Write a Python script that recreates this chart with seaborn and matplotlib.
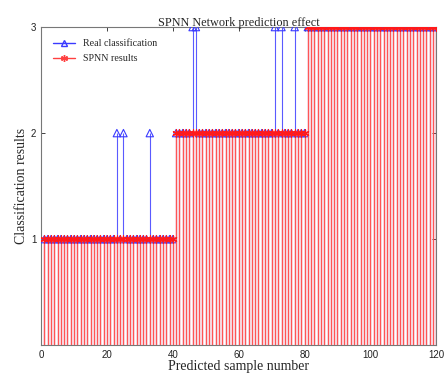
import numpy as np
import pandas as pd
import seaborn as sns
import matplotlib.pyplot as plt
from matplotlib.lines import Line2D

# sample numbers and class labels
samples = list(range(1, 121))
spnn_results = [1] * 40 + [2] * 40 + [3] * 40
real_class = list(spnn_results)
for s in [23, 25, 33]:
    real_class[s - 1] = 2
for s in [46, 47, 71, 73, 77]:
    real_class[s - 1] = 3

df = pd.DataFrame({'sample': samples, 'real': real_class, 'spnn': spnn_results})

ASTERISK = (6, 2, 0)


def main():
    sns.set_style('ticks')
    plt.rcParams['font.family'] = ['Liberation Serif', 'DejaVu Serif']
    fig = plt.figure(figsize=(4.47, 3.76), dpi=100)
    ax = fig.add_axes([0.092, 0.082, 0.884, 0.846])

    # real classification stems (drawn first, red goes over)
    ax.vlines(df['sample'], 0, df['real'], color='#5a5aff', lw=0.8, zorder=2)
    sns.scatterplot(data=df, x='sample', y='real', marker='^', s=28,
                    facecolor='none', edgecolor='#3a3aff', linewidth=0.8,
                    ax=ax, zorder=3, legend=False)
    # SPNN stems
    ax.vlines(df['sample'], 0, df['spnn'], color='#ff5555', lw=1.0, zorder=4)
    sns.scatterplot(data=df, x='sample', y='spnn', marker=ASTERISK, s=26,
                    color='#ff1a1a', linewidth=0.9,
                    ax=ax, zorder=5, legend=False)

    ax.set_xlim(0, 120)
    ax.set_ylim(0, 3)
    ax.set_xticks([0, 20, 40, 60, 80, 100, 120])
    ax.set_yticks([1, 2, 3])
    ax.tick_params(direction='in', length=3, width=0.6, top=True, right=True,
                   labelsize=7, colors='#222222')
    for lab in ax.get_xticklabels() + ax.get_yticklabels():
        lab.set_fontfamily('Liberation Sans')
    for sp in ax.spines.values():
        sp.set_visible(True)
        sp.set_color('#777777')
        sp.set_linewidth(0.8)

    ax.set_title('SPNN Network prediction effect', fontsize=8.8, pad=1)
    ax.set_xlabel('Predicted sample number', fontsize=10, labelpad=0)
    ax.set_ylabel('Classification results', fontsize=10, labelpad=2)

    handles = [
        Line2D([], [], color='#3a3aff', lw=1, marker='^', markersize=5,
               markerfacecolor='none'),
        Line2D([], [], color='#ff4040', lw=1, marker=ASTERISK, markersize=5),
    ]
    ax.legend(handles, ['Real classification', 'SPNN results'],
              loc='upper left', frameon=False, fontsize=7.2, handlelength=2.2,
              borderaxespad=0.8, labelspacing=0.6)

    plt.savefig('out.png', dpi=100)


if __name__ == '__main__':
    main()
